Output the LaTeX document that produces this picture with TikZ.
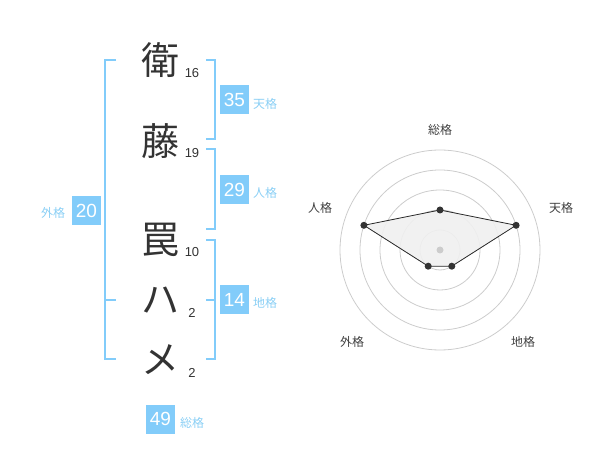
\documentclass[tikz,border=0pt]{standalone}
\usepackage{fontspec}
\setmainfont{Liberation Sans}
\newfontfamily\jpfont{Noto Sans CJK JP}
\definecolor{kakublue}{HTML}{82CCFA}
\definecolor{kakutext}{HTML}{8ACFF5}
\definecolor{inkgray}{HTML}{333333}
\definecolor{ringgray}{HTML}{CCCCCC}

\begin{document}
\begin{tikzpicture}[x=1pt, y=-1pt,
    kanji/.style={text=inkgray, font=\jpfont\fontsize{38}{38}\selectfont, inner sep=0},
    strokes/.style={text=inkgray, font=\fontsize{13}{13}\selectfont, inner sep=0},
    score/.style={fill=kakublue, text=white, minimum width=29pt, minimum height=29pt, inner sep=0, font=\fontsize{19}{19}\selectfont},
    kaku/.style={text=kakutext, font=\jpfont\fontsize{12}{12}\selectfont, inner sep=0},
    bracket/.style={draw=kakublue, line width=2pt},
    ring/.style={draw=ringgray, line width=0.8pt},
    axis/.style={text=black!75, font=\jpfont\fontsize{12}{12}\selectfont, inner sep=0},
    dot/.style={circle, fill=inkgray, inner sep=0, minimum size=7pt}]
    \useasboundingbox (0,0) rectangle (600,470);

    %Name
    \node[kanji] at (160, 60) (c1) {衛};
    \node[kanji] at (160, 141) (c2) {藤};
    \node[kanji] at (160, 240) (c3) {罠};
    \node[kanji] at (160, 300) (c4) {ハ};
    \node[kanji] at (160, 360) (c5) {メ};

    \node[strokes] at (192, 73) (n1) {16};
    \node[strokes] at (192, 153) (n2) {19};
    \node[strokes] at (192, 252) (n3) {10};
    \node[strokes] at (192, 313) (n4) {2};
    \node[strokes] at (192, 373) (n5) {2};

    %Brackets
    \draw[bracket] (116, 60) -- (105, 60) -- (105, 359) -- (116, 359);
    \draw[bracket] (105, 300) -- (116, 300);
    \draw[bracket] (206, 60) -- (215, 60) -- (215, 139) -- (206, 139);
    \draw[bracket] (206, 149) -- (215, 149) -- (215, 229) -- (206, 229);
    \draw[bracket] (206, 240) -- (215, 240) -- (215, 359) -- (206, 359);
    \draw[bracket] (206, 300) -- (215, 300);

    %Scores
    \node[score] at (234.5, 100) (ten) {35};
    \node[score] at (234.5, 190) (jin) {29};
    \node[score] at (234.5, 300) (chi) {14};
    \node[score] at (86.5, 210.5) (gai) {20};
    \node[score] at (160.5, 419) (sou) {49};

    \node[kaku] at (265, 104) (tenl) {天格};
    \node[kaku] at (265, 193) (jinl) {人格};
    \node[kaku] at (265, 303) (chil) {地格};
    \node[kaku] at (53, 213) (gail) {外格};
    \node[kaku] at (192, 423) (soul) {総格};

    %Chart
    \foreach \r in {20, 40, 60, 80, 100}
        \draw[ring] (440, 250) circle (\r pt);

    \coordinate (p1) at (440, 210);
    \coordinate (p2) at (516.1, 225.3);
    \coordinate (p3) at (451.8, 266.2);
    \coordinate (p4) at (428.2, 266.2);
    \coordinate (p5) at (363.9, 225.3);

    \filldraw[fill=black!6, fill opacity=0.9, draw=black!85, line width=0.8pt] (p1) -- (p2) -- (p3) -- (p4) -- (p5) -- cycle;
    \fill[ringgray] (440, 250) circle (3.5pt);
    \foreach \p in {p1, p2, p3, p4, p5}
        \node[dot] at (\p) {};

    \node[axis] at (440, 130) (a1) {総格};
    \node[axis] at (561, 208) (a2) {天格};
    \node[axis] at (523, 342) (a3) {地格};
    \node[axis] at (352, 342) (a4) {外格};
    \node[axis] at (320, 208) (a5) {人格};
\end{tikzpicture}
\end{document}
